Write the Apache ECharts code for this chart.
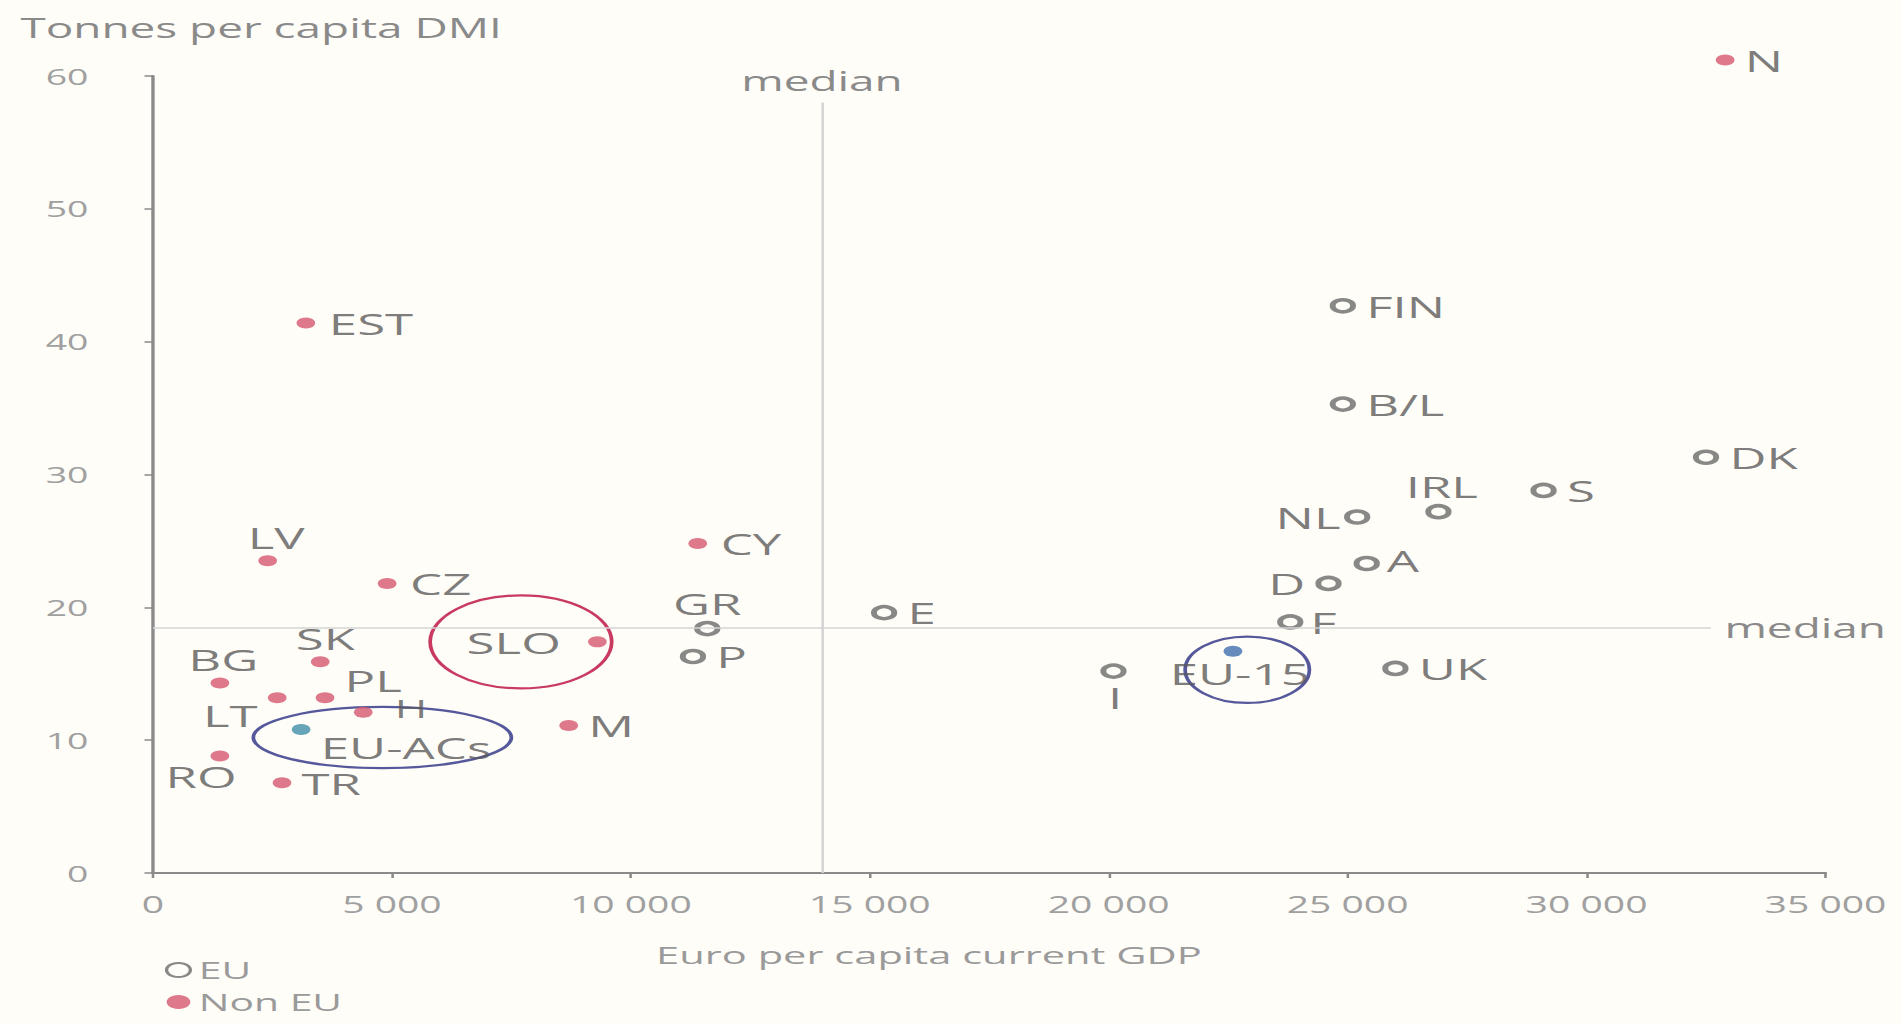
<!DOCTYPE html>
<html>
<head>
<meta charset="utf-8">
<script src="https://cdn.jsdelivr.net/npm/echarts@6/dist/echarts.min.js"></script>
<style>
  html, body { margin: 0; padding: 0; background: #fffdf8; overflow: hidden; }
  #wrap { width: 1902px; height: 1024px; overflow: hidden; }
  #chart { width: 1119px; height: 1024px; transform: scaleX(1.6997); transform-origin: 0 0; }
</style>
</head>
<body>
<div id="wrap"><div id="chart"></div></div>
<script>
// ---- data ----
const euNames = ['FIN', 'B/L', 'DK', 'S', 'IRL', 'NL', 'A', 'D', 'F', 'E', 'GR', 'P', 'I', 'UK'];
const euGdp   = [24900, 24900, 32500, 29100, 26900, 25200, 25400, 24600, 23800, 15300, 11600, 11300, 20100, 26000];
const euDmi   = [42.7, 35.3, 31.3, 28.8, 27.2, 26.8, 23.3, 21.8, 18.9, 19.6, 18.4, 16.3, 15.2, 15.4];

const nonEuNames = ['N', 'EST', 'LV', 'CZ', 'CY', 'SLO', 'SK', 'BG', 'LT', 'PL', 'H', 'M', 'RO', 'TR'];
const nonEuGdp   = [32900, 3200, 2400, 4900, 11400, 9300, 3500, 1400, 2600, 3600, 4400, 8700, 1400, 2700];
const nonEuDmi   = [61.2, 41.4, 23.5, 21.8, 24.8, 17.4, 15.9, 14.3, 13.2, 13.2, 12.1, 11.1, 8.8, 6.8];

const avgNames = ['EU-ACs', 'EU-15'];
const avgGdp   = [3100, 22600];
const avgDmi   = [10.8, 16.7];

const medianGdp = 14000;
const medianDmi = 18.5;

// circled groups: [centre GDP, centre DMI, half-width GDP, half-height DMI]
const circleSLO   = [7700, 17.4, 1900, 3.5];
const circleACs   = [4800, 10.2, 2700, 2.3];
const circleEU15  = [22900, 15.3, 1300, 2.5];

const xTickStep = 5000;
const yTickStep = 10;

// ---- styling ----
const FONT = '"Open Sans", "Noto Sans", sans-serif';
const RED = '#d4586f';
const GREY_RING = '#6a6a6a';
const LABEL_COL = '#5a5a5a';

const labelPlace = {
  'N': ['right'], 'EST': ['right', [2, 0]], 'LV': ['top', [5, 0]], 'CZ': ['right', [2, 0]], 'CY': ['right', [2, 0]],
  'SLO': ['left', [-10, 0]], 'SK': ['top', [3, 0]], 'BG': ['top', [2, 0]], 'LT': ['left', [0, 18]],
  'PL': ['right', [0, -17]], 'H': ['right', [7, -4], 26], 'M': ['right'], 'RO': ['bottom', [-11, -3]], 'TR': ['right'],
  'FIN': ['right'], 'B/L': ['right'], 'DK': ['right'], 'S': ['right'], 'IRL': ['top', [2, 0]],
  'NL': ['left', [4, 0]], 'A': ['right', [-2, -3]], 'D': ['left'], 'F': ['right', [-2, 0]], 'E': ['right'],
  'GR': ['top'], 'P': ['right'], 'I': ['bottom', [1, 0]], 'UK': ['right'],
  'EU-ACs': ['right', [0, 18]], 'EU-15': ['bottom', [4, -2]]
};

function items(names, xs, ys, extra) {
  return names.map((n, i) => {
    const p = labelPlace[n] || ['right'];
    const lab = { position: p[0], offset: p[1] || [0, 0] };
    if (p[2]) lab.fontSize = p[2];
    const it = { name: n, value: [xs[i], ys[i]], label: lab };
    if (extra) Object.assign(it, extra(i));
    return it;
  });
}

function fmtThousands(v) {
  if (v === 0) return '0';
  return String(v).replace(/\B(?=(\d{3})+(?!\d))/g, ' ');
}

const baseLabel = {
  show: true, formatter: '{b}', color: LABEL_COL, fontFamily: FONT, fontSize: 30, lineHeight: 24, distance: 6
};

const chart = echarts.init(document.getElementById('chart'), null, { renderer: 'svg', width: 1119, height: 1024 });

chart.setOption({
  backgroundColor: '#fffdf8',
  animation: false,
  textStyle: { fontFamily: FONT },
  title: [
    { text: 'Tonnes per capita DMI', left: 7, top: 9,
      textStyle: { fontFamily: FONT, fontSize: 27, fontWeight: 'normal', color: '#8a8a8a' } },
    { text: 'Euro per capita current GDP', left: 381, top: 937,
      textStyle: { fontFamily: FONT, fontSize: 24.5, fontWeight: 'normal', color: '#9a9a9a' } }
  ],
  legend: {
    data: ['EU', 'Non EU'], orient: 'vertical', left: 92, top: 958, padding: [0, 5, 0, 5],
    itemWidth: 14, itemHeight: 14, itemGap: 8,
    textStyle: { fontFamily: FONT, fontSize: 24, color: '#9a9a9a', lineHeight: 24 }
  },
  grid: { left: 90, right: 45, top: 76, bottom: 151, containLabel: false },
  xAxis: {
    type: 'value', min: 0, max: 35000, interval: xTickStep,
    axisLine: { show: true, lineStyle: { color: '#8a8a8a', width: 2 } },
    axisTick: { show: true, length: 5, lineStyle: { color: '#8a8a8a', width: 1.5 } },
    splitLine: { show: false },
    axisLabel: { formatter: fmtThousands, fontFamily: FONT, fontSize: 23, color: '#a0a0a0', margin: 20 }
  },
  yAxis: {
    type: 'value', min: 0, max: 60, interval: yTickStep,
    axisLine: { show: true, lineStyle: { color: '#8a8a8a', width: 2 } },
    axisTick: { show: true, length: 5, lineStyle: { color: '#8a8a8a', width: 1.5 } },
    splitLine: { show: false },
    axisLabel: { fontFamily: FONT, fontSize: 22, color: '#a0a0a0', margin: 38 }
  },
  series: [
    {
      name: 'EU', type: 'scatter', clip: false, symbol: 'circle', symbolSize: 12,
      itemStyle: { color: '#fffdf8', borderColor: GREY_RING, borderWidth: 3.5 },
      label: baseLabel,
      data: items(euNames, euGdp, euDmi),
      markLine: {
        silent: true, symbol: ['none', 'none'],
        lineStyle: { color: '#d4d4d4', width: 1.5, type: 'solid' },
        label: { show: true, formatter: 'median', position: 'end', fontFamily: FONT, fontSize: 27, color: '#8a8a8a', distance: 8 },
        data: [
          [{ coord: [medianGdp, 0] }, { coord: [medianGdp, 58] }],
          [{ coord: [0, medianDmi] }, { coord: [32600, medianDmi] }]
        ]
      }
    },
    {
      name: 'Non EU', type: 'scatter', clip: false, symbol: 'circle', symbolSize: 11,
      itemStyle: { color: RED },
      label: baseLabel,
      data: items(nonEuNames, nonEuGdp, nonEuDmi)
    },
    {
      name: 'EU averages', type: 'scatter', clip: false, symbol: 'circle', symbolSize: 11,
      label: baseLabel,
      data: items(avgNames, avgGdp, avgDmi, i => ({ itemStyle: { color: i === 0 ? '#3f8fa6' : '#3f6fae' } }))
    },
    {
      name: 'groups', type: 'custom', silent: true, clip: false,
      data: [
        { value: circleSLO, itemStyle: { color: '#c93a60' } },
        { value: circleACs, itemStyle: { color: '#55589a' } },
        { value: circleEU15, itemStyle: { color: '#55589a' } }
      ],
      renderItem: function (params, api) {
        const c = api.coord([api.value(0), api.value(1)]);
        const s = api.size([api.value(2), api.value(3)]);
        return {
          type: 'ellipse',
          shape: { cx: c[0], cy: c[1], rx: s[0], ry: s[1] },
          style: { fill: 'none', stroke: api.visual('color'), lineWidth: 2.2 }
        };
      }
    }
  ]
});
</script>
</body>
</html>
